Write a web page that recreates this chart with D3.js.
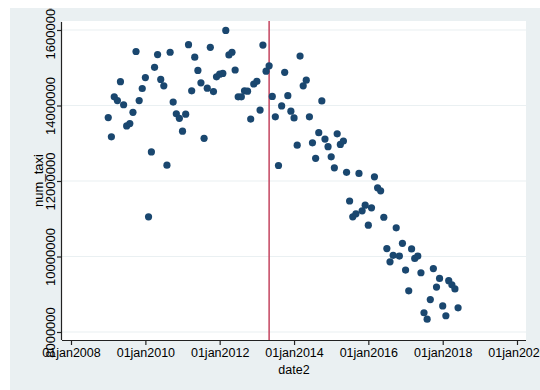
<!DOCTYPE html>
<html>
<head>
<meta charset="utf-8">
<script src="https://cdn.jsdelivr.net/npm/d3@7/dist/d3.min.js"></script>
<style>
  html, body { margin: 0; padding: 0; background: #ffffff; }
  svg { display: block; }
  text { font-family: "Liberation Sans", Arial, Helvetica, sans-serif; fill: #000; }
</style>
</head>
<body>
<svg id="chart" width="540" height="390"></svg>
<script>
// ---- data (monthly, Jan 2009 .. Jun 2018) ----
const startMonth = "2009-01";
const numTaxi = [
  13680000, 13170000, 14230000, 14130000, 14630000, 14020000, 13460000, 13520000, 13820000, 15430000, 14130000, 14450000,
  14740000, 11050000, 12770000, 15010000, 15350000, 14690000, 14520000, 12420000, 15410000, 14090000, 13780000, 13660000,
  13320000, 13770000, 15610000, 14390000, 15280000, 14930000, 14600000, 13130000, 14460000, 15540000, 14370000, 14760000,
  14830000, 14850000, 15990000, 15340000, 15410000, 14940000, 14230000, 14230000, 14390000, 14380000, 13640000, 14570000,
  14640000, 13880000, 15600000, 14910000, 15050000, 14240000, 13700000, 12410000, 13990000, 14880000, 14260000, 13850000,
  13670000, 12950000, 15310000, 14520000, 14670000, 13700000, 13010000, 12600000, 13280000, 14120000, 13110000, 12910000,
  12640000, 12350000, 13250000, 12970000, 13060000, 12230000, 11470000, 11050000, 11130000, 12200000, 11210000, 11360000,
  10830000, 11290000, 12110000, 11820000, 11740000, 11040000, 10210000, 9860000, 10030000, 10760000, 10010000, 10350000,
  9640000, 9090000, 10200000, 9950000, 10010000, 9570000, 8510000, 8340000, 8860000, 9680000, 9190000, 9420000,
  8690000, 8430000, 9360000, 9250000, 9140000, 8640000
];
const xTickLabels = ["01jan2008", "01jan2010", "01jan2012", "01jan2014", "01jan2016", "01jan2018", "01jan2020"];
const yTickValues = [8000000, 10000000, 12000000, 14000000, 16000000];
const eventDate = "2013-05-01";
const xTitle = "date2";
const yTitle = "num_taxi";

// ---- build ----
const parseMonth = d3.timeParse("%Y-%m");
const parseDay = d3.timeParse("%Y-%m-%d");
const parseTick = d3.timeParse("%d%b%Y");
const t0 = parseMonth(startMonth);
const points = numTaxi.map((v, i) => ({ date: d3.timeMonth.offset(t0, i), value: v }));
const xTicks = xTickLabels.map(s => parseTick(s));

const svg = d3.select("#chart");
const W = 540, H = 390;

// graph region
const G = { x0: 10, y0: 8, x1: 540, y1: 390 };
// plot region
const P = { left: 62, right: 526, top: 21, bottom: 340 };

svg.append("defs").append("clipPath").attr("id", "gclip")
  .append("rect").attr("x", G.x0).attr("y", G.y0).attr("width", G.x1 - G.x0).attr("height", G.y1 - G.y0);

const root = svg.append("g").attr("clip-path", "url(#gclip)");

root.append("rect")
  .attr("x", G.x0).attr("y", G.y0).attr("width", G.x1 - G.x0).attr("height", G.y1 - G.y0)
  .attr("fill", "#eaf0f2");

root.append("rect")
  .attr("x", P.left).attr("y", P.top).attr("width", P.right - P.left).attr("height", P.bottom - P.top)
  .attr("fill", "#ffffff");

const x = d3.scaleTime()
  .domain([xTicks[0], xTicks[xTicks.length - 1]])
  .range([71, 517]);
const y = d3.scaleLinear()
  .domain([8000000, 16000000])
  .range([332, 30]);

// gridlines
root.append("g")
  .selectAll("line")
  .data(yTickValues)
  .join("line")
  .attr("x1", P.left).attr("x2", P.right)
  .attr("y1", d => y(d)).attr("y2", d => y(d))
  .attr("stroke", "#eaf0f2").attr("stroke-width", 1.2);

// event line
root.append("line")
  .attr("x1", x(parseDay(eventDate))).attr("x2", x(parseDay(eventDate)))
  .attr("y1", P.top).attr("y2", P.bottom)
  .attr("stroke", "#c4445f").attr("stroke-width", 1.5);

// points
root.append("g")
  .selectAll("circle")
  .data(points)
  .join("circle")
  .attr("cx", d => x(d.date))
  .attr("cy", d => y(d.value))
  .attr("r", 3.6)
  .attr("fill", "#1a476f");

// x axis
const xAxis = d3.axisBottom(x)
  .tickValues(xTicks)
  .tickSize(5)
  .tickPadding(3)
  .tickFormat((d, i) => xTickLabels[i]);
const gx = root.append("g").attr("transform", `translate(0,${P.bottom})`).call(xAxis);
gx.select(".domain").attr("d", `M${P.left},0.5H${P.right}`).attr("stroke", "#222").attr("stroke-width", 1.2);
gx.selectAll(".tick line").attr("stroke", "#222").attr("stroke-width", 1.2);
gx.selectAll(".tick text")
  .style("font-family", "'Liberation Sans', Arial, sans-serif")
  .attr("font-size", 12.5).attr("fill", "#000");

// y axis
const yAxis = d3.axisLeft(y)
  .tickValues(yTickValues)
  .tickSize(5)
  .tickFormat(d3.format("d"));
const gy = root.append("g").attr("transform", `translate(${P.left},0)`).call(yAxis);
gy.select(".domain").attr("d", `M-0.5,${P.top + 1}V${P.bottom}`).attr("stroke", "#222").attr("stroke-width", 1.2);
gy.selectAll(".tick line").attr("stroke", "#222").attr("stroke-width", 1.2);
gy.selectAll(".tick text")
  .style("font-family", "'Liberation Sans', Arial, sans-serif")
  .attr("font-size", 13).attr("fill", "#000")
  .attr("x", 0).attr("dy", null)
  .attr("transform", "translate(-7,0) rotate(-90)")
  .attr("text-anchor", "middle")
  .attr("y", 0);

// titles
root.append("text")
  .attr("x", (P.left + P.right) / 2)
  .attr("y", 374)
  .attr("text-anchor", "middle")
  .attr("font-size", 12.5)
  .text(xTitle);

root.append("text")
  .attr("transform", `translate(43,${(P.top + P.bottom) / 2}) rotate(-90)`)
  .attr("text-anchor", "middle")
  .attr("font-size", 13)
  .text(yTitle);
</script>
</body>
</html>
